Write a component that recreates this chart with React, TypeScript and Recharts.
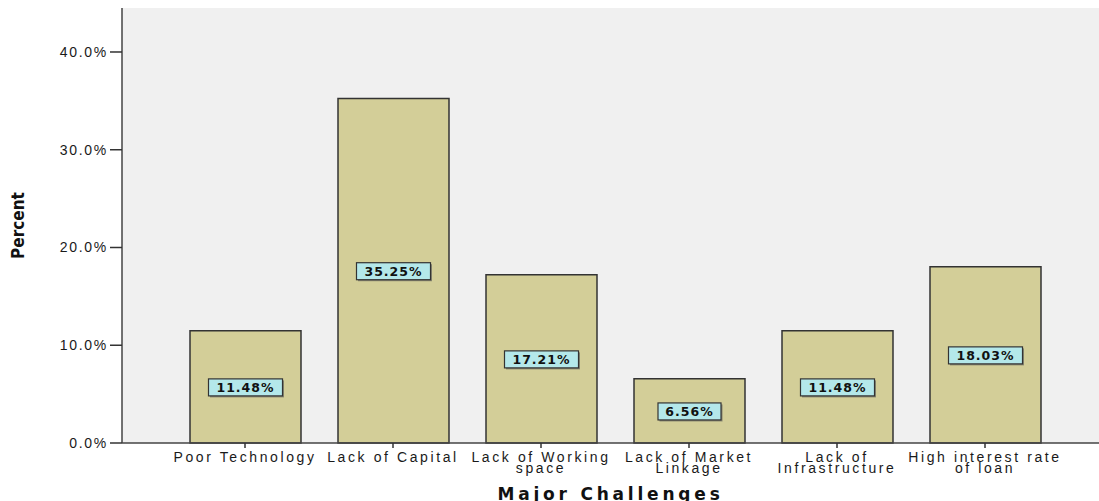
import { BarChart, Bar, XAxis, YAxis, CartesianGrid, LabelList } from 'recharts'

// values
const challenges = [
  'Poor Technology',
  'Lack of Capital',
  'Lack of Working\nspace',
  'Lack of Market\nLinkage',
  'Lack of\nInfrastructure',
  'High interest rate\nof loan',
]
const percents = [11.48, 35.25, 17.21, 6.56, 11.48, 18.03]
const yTicks = [0, 10, 20, 30, 40]

const data = challenges.map((name, i) => ({ name, percent: percents[i] }))

const FONT = '"Liberation Sans", Arial, sans-serif'
const BOLD_FONT = '"DejaVu Sans", Verdana, sans-serif'

const CategoryTick = ({ x, y, payload }: any) => {
  const lines = String(payload.value).split('\n')
  return (
    <text x={x} y={y + 12} textAnchor="middle" fontFamily={FONT} fontSize={14} fill="#1a1a1a" letterSpacing={2.6}>
      {lines.map((l, i) => (
        <tspan key={i} x={x} dy={i === 0 ? 0 : 10.5}>{l}</tspan>
      ))}
    </text>
  )
}

const ValueBox = ({ x, y, width, height, value }: any) => {
  const txt = `${Number(value).toFixed(2)}%`
  const w = txt.length * 11 + 8
  const cx = x + width / 2
  const cy = y + height / 2
  return (
    <g>
      <rect x={cx - w / 2 + 1.5} y={cy - 8 + 1.5} width={w} height={17} fill="#555" opacity={0.6} />
      <rect x={cx - w / 2} y={cy - 8} width={w} height={17} fill="#b4e8ea" stroke="#333" strokeWidth={1.2} />
      <text x={cx} y={cy + 5} textAnchor="middle" fontFamily={BOLD_FONT} fontWeight="bold" fontSize={12.5} fill="#111" letterSpacing={1}>
        {txt}
      </text>
    </g>
  )
}

export default function App() {
  return (
    <div style={{ position: 'absolute', left: 0, top: 0, background: '#fff' }}>
      <BarChart width={1099} height={501} data={data} margin={{ top: 8, right: 0, left: 0, bottom: 0 }}>
        <CartesianGrid fill="#f0f0f0" horizontal={false} vertical={false} />
        <XAxis
          xAxisId="top"
          orientation="top"
          dataKey="name"
          height={0}
          tick={false}
          tickLine={false}
          axisLine={{ stroke: '#444', strokeWidth: 1.5 }}
        />
        <XAxis
          dataKey="name"
          height={58}
          padding={{ left: 49, right: 40 }}
          tick={<CategoryTick />}
          tickLine={{ stroke: '#333', strokeWidth: 1.5 }}
          tickSize={5}
          axisLine={{ stroke: '#444', strokeWidth: 1.5 }}
          interval={0}
          label={{
            value: 'Major Challenges',
            position: 'insideBottom',
            offset: 1,
            style: { fontFamily: BOLD_FONT, fontWeight: 'bold', fontSize: 17, fill: '#111', letterSpacing: 3.8 },
          }}
        />
        <YAxis
          width={122}
          domain={[0, 44.5]}
          ticks={yTicks}
          tickFormatter={(v: number) => `${v.toFixed(1)}%`}
          tick={{ fontFamily: FONT, fontSize: 14, fill: '#1a1a1a', letterSpacing: 1.7 }}
          tickLine={{ stroke: '#333', strokeWidth: 1.5 }}
          tickSize={12}
          axisLine={{ stroke: '#444', strokeWidth: 1.5 }}
          label={{
            value: 'Percent',
            angle: -90,
            position: 'insideLeft',
            offset: 18,
            style: {
              fontFamily: '"DejaVu Sans Condensed", "Liberation Sans Narrow", sans-serif',
              fontWeight: 'bold',
              fontSize: 17,
              fill: '#111',
              textAnchor: 'middle',
            },
          }}
        />
        <Bar xAxisId={0} dataKey="percent" fill="#d3ce98" stroke="#333" strokeWidth={1.5} barSize={111} isAnimationActive={false}>
          <LabelList dataKey="percent" content={<ValueBox />} />
        </Bar>
      </BarChart>
    </div>
  )
}
